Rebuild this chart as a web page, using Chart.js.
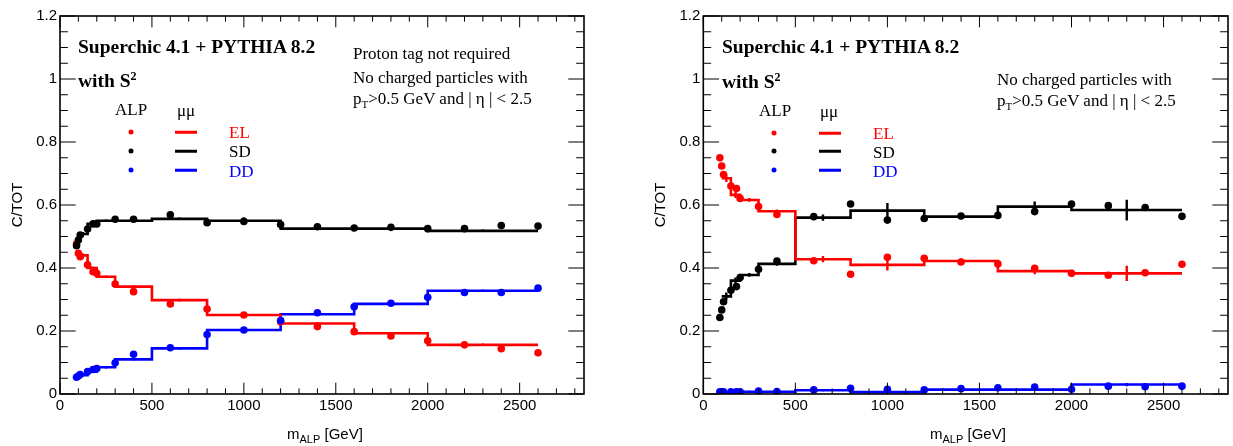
<!DOCTYPE html>
<html>
<head>
<meta charset="utf-8">
<script src="https://cdn.jsdelivr.net/npm/chart.js@4.4.0/dist/chart.umd.min.js"></script>
<style>
  body { margin: 0; background: #fff; width: 1233px; height: 446px; overflow: hidden; position: relative; }
  canvas { position: absolute; top: 0; }
  .t { position: absolute; white-space: nowrap; line-height: 1; color: #000; transform: translateY(-50%);
       font-family: "Liberation Serif", "Times New Roman", serif; font-size: 17px; }
  .b { font-weight: bold; font-size: 19.5px; }
  .ax { font-family: "Liberation Sans", Arial, sans-serif; font-size: 15px; }
  .ax sub { font-size: 10px; vertical-align: -4px; }
  sup { font-size: 12px; vertical-align: 7px; }
  .t sub { font-size: 11px; vertical-align: -4px; }
  .dot { position: absolute; width: 5px; height: 5px; border-radius: 50%; transform: translate(-50%, -50%); }
  .ln { position: absolute; height: 2.5px; width: 22px; transform: translateY(-50%); }
</style>
</head>
<body>
<canvas id="left" width="616" height="446" style="left:0"></canvas>
<canvas id="right" width="617" height="446" style="left:616px"></canvas>

<!-- left panel texts -->
<div class="t b" style="left:78px;top:47px">Superchic 4.1 + PYTHIA 8.2</div>
<div class="t b" style="left:78px;top:80px">with S<sup>2</sup></div>
<div class="t" style="left:353px;top:53px">Proton tag not required</div>
<div class="t" style="left:353px;top:77px">No charged particles with</div>
<div class="t" style="left:353px;top:100px">p<sub>T</sub>&gt;0.5 GeV and | η | &lt; 2.5</div>
<div class="t" style="left:115px;top:109px">ALP</div>
<div class="t" style="left:177px;top:110px">μμ</div>
<div class="dot" style="left:131px;top:132px;background:#f00"></div>
<div class="dot" style="left:131px;top:151px;background:#000"></div>
<div class="dot" style="left:131px;top:170px;background:#00f"></div>
<div class="ln" style="left:175px;top:132px;background:#f00"></div>
<div class="ln" style="left:175px;top:151px;background:#000"></div>
<div class="ln" style="left:175px;top:170px;background:#00f"></div>
<div class="t" style="left:229px;top:132px;color:#f00">EL</div>
<div class="t" style="left:229px;top:151px">SD</div>
<div class="t" style="left:229px;top:171px;color:#00f">DD</div>
<div class="t ax" style="left:287px;top:435px">m<sub>ALP</sub> [GeV]</div>

<!-- right panel texts -->
<div class="t b" style="left:722px;top:47px">Superchic 4.1 + PYTHIA 8.2</div>
<div class="t b" style="left:722px;top:81px">with S<sup>2</sup></div>
<div class="t" style="left:997px;top:79px">No charged particles with</div>
<div class="t" style="left:997px;top:102px">p<sub>T</sub>&gt;0.5 GeV and | η | &lt; 2.5</div>
<div class="t" style="left:759px;top:110px">ALP</div>
<div class="t" style="left:820px;top:111px">μμ</div>
<div class="dot" style="left:774px;top:133px;background:#f00"></div>
<div class="dot" style="left:774px;top:151px;background:#000"></div>
<div class="dot" style="left:774px;top:170px;background:#00f"></div>
<div class="ln" style="left:819px;top:133px;background:#f00"></div>
<div class="ln" style="left:819px;top:151px;background:#000"></div>
<div class="ln" style="left:819px;top:170px;background:#00f"></div>
<div class="t" style="left:873px;top:133px;color:#f00">EL</div>
<div class="t" style="left:873px;top:152px">SD</div>
<div class="t" style="left:873px;top:171px;color:#00f">DD</div>
<div class="t ax" style="left:930px;top:435px">m<sub>ALP</sub> [GeV]</div>

<script>
// ALP masses (GeV) of the signal points
const massPts = [90, 100, 110, 150, 180, 200, 300, 400, 600, 800, 1000, 1200, 1400, 1600, 1800, 2000, 2200, 2400, 2600]
// bin edges of the mu mu histograms
const binEdges = [100, 150, 200, 300, 500, 800, 1200, 1600, 2000, 2600]

// left: proton tag not required
const alpEL_L = [0.477, 0.447, 0.436, 0.410, 0.388, 0.383, 0.349, 0.325, 0.286, 0.270, 0.251, 0.229, 0.214, 0.198, 0.184, 0.169, 0.156, 0.144, 0.131]
const alpSD_L = [0.471, 0.489, 0.505, 0.524, 0.540, 0.540, 0.555, 0.555, 0.569, 0.544, 0.548, 0.538, 0.531, 0.527, 0.529, 0.525, 0.525, 0.535, 0.533]
const alpDD_L = [0.053, 0.057, 0.062, 0.071, 0.078, 0.081, 0.099, 0.126, 0.147, 0.189, 0.203, 0.233, 0.258, 0.277, 0.288, 0.307, 0.322, 0.322, 0.336]
const mumuEL_L = [0.440, 0.400, 0.372, 0.341, 0.298, 0.251, 0.224, 0.193, 0.156]
const mumuSD_L = [0.508, 0.540, 0.550, 0.550, 0.556, 0.550, 0.525, 0.525, 0.518]
const mumuDD_L = [0.060, 0.071, 0.085, 0.110, 0.145, 0.203, 0.253, 0.286, 0.328]
const errEL_L = [0.006, 0.005, 0.004, 0.004, 0.004, 0.004, 0.004, 0.004, 0.004]
const errSD_L = [0.006, 0.005, 0.004, 0.004, 0.004, 0.010, 0.004, 0.004, 0.004]
const errDD_L = [0.004, 0.004, 0.004, 0.004, 0.004, 0.004, 0.004, 0.004, 0.004]

// right: no charged particles
const alpEL_R = [0.750, 0.724, 0.697, 0.660, 0.652, 0.621, 0.595, 0.570, 0.423, 0.380, 0.434, 0.431, 0.419, 0.413, 0.399, 0.383, 0.377, 0.385, 0.412]
const alpSD_R = [0.243, 0.267, 0.293, 0.329, 0.341, 0.370, 0.396, 0.422, 0.563, 0.603, 0.552, 0.557, 0.565, 0.567, 0.579, 0.603, 0.598, 0.592, 0.564]
const alpDD_R = [0.007, 0.007, 0.007, 0.007, 0.007, 0.007, 0.009, 0.008, 0.013, 0.018, 0.015, 0.013, 0.017, 0.020, 0.022, 0.015, 0.025, 0.023, 0.025]
const mumuEL_R = [0.685, 0.632, 0.616, 0.580, 0.428, 0.410, 0.422, 0.390, 0.383]
const mumuSD_R = [0.310, 0.360, 0.378, 0.413, 0.560, 0.582, 0.563, 0.595, 0.584]
const mumuDD_R = [0.005, 0.007, 0.007, 0.007, 0.012, 0.006, 0.014, 0.014, 0.030]
const errEL_R = [0.012, 0.010, 0.006, 0.006, 0.010, 0.018, 0.008, 0.010, 0.024]
const errSD_R = [0.012, 0.010, 0.006, 0.006, 0.010, 0.024, 0.008, 0.016, 0.033]
const errDD_R = [0.003, 0.003, 0.003, 0.003, 0.003, 0.003, 0.003, 0.003, 0.005]

const xTicks = [0, 500, 1000, 1500, 2000, 2500]
const yTicks = [0, 0.2, 0.4, 0.6, 0.8, 1, 1.2]

const RED = '#ff0000', BLACK = '#000000', BLUE = '#0000ff'

function points(vals, color) {
    return {
        type: 'scatter',
        data: vals.map((v, i) => ({ x: massPts[i], y: v })),
        backgroundColor: color,
        borderWidth: 0,
        pointRadius: 3.8,
        pointHoverRadius: 3.8
    }
}

function histo(vals, errs, color) {
    const pts = vals.map((v, i) => ({ x: binEdges[i], y: v }))
    pts.push({ x: binEdges[binEdges.length - 1], y: vals[vals.length - 1] })
    return {
        type: 'line',
        data: pts,
        stepped: true,
        borderColor: color,
        borderWidth: 2.6,
        pointRadius: 0,
        fill: false,
        errors: errs,
        errVals: vals
    }
}

// ROOT-like frame with ticks on all sides, and error bars at bin centres
const rootFrame = {
    id: 'rootFrame',
    beforeDatasetsDraw(chart) {
        const { ctx, scales: { x, y } } = chart
        ctx.save()
        ctx.lineWidth = 2.4
        chart.data.datasets.forEach(ds => {
            if (!ds.errors) return
            ctx.strokeStyle = ds.borderColor
            ctx.beginPath()
            ds.errors.forEach((e, i) => {
                const c = (binEdges[i] + binEdges[i + 1]) / 2
                const px = x.getPixelForValue(c)
                ctx.moveTo(px, y.getPixelForValue(ds.errVals[i] - e))
                ctx.lineTo(px, y.getPixelForValue(ds.errVals[i] + e))
            })
            ctx.stroke()
        })
        ctx.restore()
    },
    afterDraw(chart) {
        const { ctx, chartArea: a, scales: { x, y } } = chart
        const xLen = (a.bottom - a.top) * 0.03
        const yLen = (a.right - a.left) * 0.03
        ctx.save()
        ctx.strokeStyle = '#000'
        ctx.lineWidth = 1
        ctx.beginPath()
        for (let i = 0; i * 100 <= x.max; i++) {
            const px = x.getPixelForValue(i * 100)
            const len = i % 5 === 0 ? xLen : xLen / 2
            ctx.moveTo(px, a.bottom); ctx.lineTo(px, a.bottom - len)
            ctx.moveTo(px, a.top); ctx.lineTo(px, a.top + len)
        }
        for (let i = 0; i <= 24; i++) {
            const py = y.getPixelForValue(i * 0.05)
            const len = i % 4 === 0 ? yLen : yLen / 2
            ctx.moveTo(a.left, py); ctx.lineTo(a.left + len, py)
            ctx.moveTo(a.right, py); ctx.lineTo(a.right - len, py)
        }
        ctx.stroke()
        ctx.lineWidth = 1.6
        ctx.strokeRect(a.left, a.top, a.right - a.left, a.bottom - a.top)
        ctx.restore()
    }
}

function makeChart(id, padLeft, padRight, alp, mumu, errs) {
    return new Chart(document.getElementById(id), {
        data: {
            datasets: [
                points(alp[2], BLUE),
                points(alp[1], BLACK),
                points(alp[0], RED),
                histo(mumu[0], errs[0], RED),
                histo(mumu[1], errs[1], BLACK),
                histo(mumu[2], errs[2], BLUE)
            ]
        },
        options: {
            responsive: false,
            animation: false,
            events: [],
            layout: { padding: { left: padLeft, right: padRight, top: 16, bottom: 0 } },
            plugins: { legend: { display: false }, tooltip: { enabled: false } },
            scales: {
                x: {
                    type: 'linear',
                    min: 0,
                    max: 2850,
                    grid: { display: false, drawTicks: false },
                    border: { display: false },
                    afterBuildTicks: s => { s.ticks = xTicks.map(v => ({ value: v })) },
                    ticks: {
                        callback: v => String(v),
                        font: { family: 'Liberation Sans', size: 15 },
                        color: '#000',
                        padding: 3,
                        maxRotation: 0,
                        autoSkip: false
                    },
                    afterFit: s => { s.height = 52; s.paddingLeft = 0; s.paddingRight = 0 }
                },
                y: {
                    type: 'linear',
                    min: 0,
                    max: 1.2,
                    grid: { display: false, drawTicks: false },
                    border: { display: false },
                    afterBuildTicks: s => { s.ticks = yTicks.map(v => ({ value: v })) },
                    ticks: {
                        callback: v => String(Math.round(v * 10) / 10),
                        font: { family: 'Liberation Sans', size: 15 },
                        color: '#000',
                        padding: 3,
                        autoSkip: false
                    },
                    title: {
                        display: true,
                        text: 'C/TOT',
                        font: { family: 'Liberation Sans', size: 15 },
                        color: '#000',
                        padding: { top: 8.5, bottom: 0 }
                    },
                    afterFit: s => { s.width = 60; s.paddingTop = 0; s.paddingBottom = 0 }
                }
            }
        },
        plugins: [rootFrame]
    })
}

makeChart('left', 0, 32,
    [alpEL_L, alpSD_L, alpDD_L], [mumuEL_L, mumuSD_L, mumuDD_L], [errEL_L, errSD_L, errDD_L])
makeChart('right', 27.3, 5,
    [alpEL_R, alpSD_R, alpDD_R], [mumuEL_R, mumuSD_R, mumuDD_R], [errEL_R, errSD_R, errDD_R])
</script>
</body>
</html>
